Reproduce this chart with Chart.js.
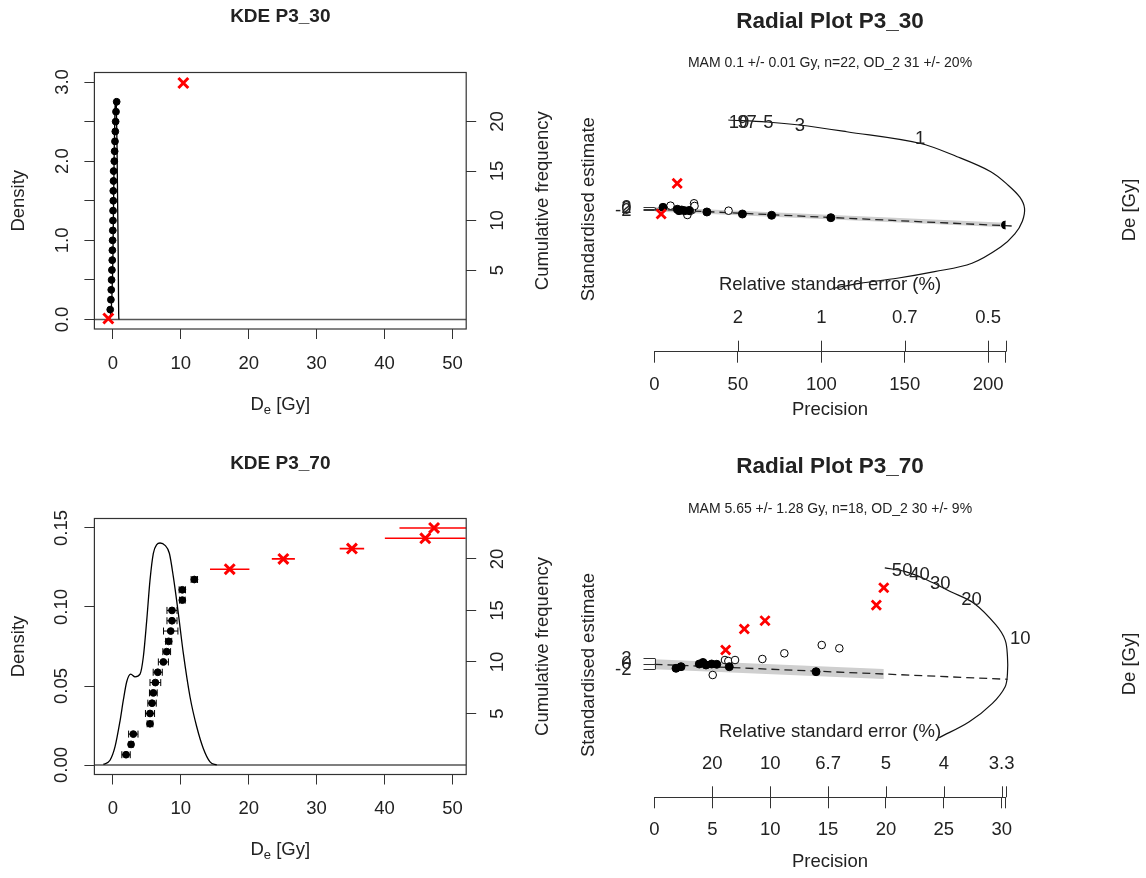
<!DOCTYPE html>
<html><head><meta charset="utf-8">
<script src="https://cdn.jsdelivr.net/npm/chart.js@4"></script>
<style>
html,body{margin:0;padding:0;background:#fff;}
#wrap{position:relative;width:1146px;height:878px;overflow:hidden;}
#wrap canvas{position:absolute;left:0;top:0;}
</style></head><body>
<div id="wrap">
<canvas id="kde30" width="1146" height="878"></canvas>
<canvas id="rad30" width="1146" height="878"></canvas>
<canvas id="kde70" width="1146" height="878"></canvas>
<canvas id="rad70" width="1146" height="878"></canvas>
</div>
<script>
// ================= DATA =================
// ---- KDE P3_30 ----
const deTicks = [0, 10, 20, 30, 40, 50];
const deRange = [-2.73, 52.03];
const kde30X = [-0.5, -0.3, -0.15, 0.0, 0.1, 0.2, 0.3, 0.4, 0.5, 0.6, 0.7, 0.78, 0.82, 0.85, 0.9];
const kde30Density = [0.0, 0.08, 0.3, 0.8, 1.5, 2.2, 2.65, 2.79, 2.7, 2.2, 1.4, 0.8, 0.3, 0.05, 0.0];
const cum30De = [-0.4, -0.3, -0.25, -0.2, -0.15, -0.1, -0.08, -0.05, -0.02, 0, 0.02, 0.05, 0.05, 0.08, 0.1, 0.2, 0.25, 0.3, 0.35, 0.4, 0.45, 0.55];
const cum30Err = [0.12, 0.1, 0.1, 0.1, 0.1, 0.1, 0.12, 0.1, 0.1, 0.1, 0.12, 0.1, 0.1, 0.1, 0.1, 0.12, 0.1, 0.1, 0.12, 0.1, 0.1, 0.12];
const cum30Rank = [1, 2, 3, 4, 5, 6, 7, 8, 9, 10, 11, 12, 13, 14, 15, 16, 17, 18, 19, 20, 21, 22];
const out30De = [-0.68, 10.37];
const out30Err = [0, 0];
const out30Rank = [0.1, 23.9];
const dens30Range = [-0.12, 3.12];
const dens30Ticks = [0, 0.5, 1, 1.5, 2, 2.5, 3];
const dens30TickLabels = ['0.0', '', '1.0', '', '2.0', '', '3.0'];
const cum30Range = [-0.96, 24.96];
const cumTicks = [5, 10, 15, 20];

// ---- KDE P3_70 ----
const kde70X = [-1.41, -0.43, 0.31, 1.05, 1.53, 2.03, 2.62, 3.25, 3.99, 4.48, 4.98, 5.46, 5.95, 6.45, 6.94, 7.67, 8.31, 8.90, 9.63, 10.37, 11.35, 12.34, 13.31, 14.30, 15.29];
const kde70Density = [0.0004, 0.003, 0.0116, 0.028, 0.041, 0.0527, 0.0575, 0.0558, 0.0575, 0.0685, 0.0917, 0.117, 0.134, 0.1395, 0.1405, 0.139, 0.134, 0.119, 0.096, 0.0706, 0.0432, 0.0242, 0.0105, 0.002, 0];
const cum70De = [1.93, 2.67, 3.0, 5.46, 5.46, 5.76, 5.95, 6.25, 6.60, 7.43, 7.92, 8.21, 8.51, 8.70, 8.70, 10.22, 10.22, 11.99];
const cum70Err = [0.62, 0.3, 0.69, 0.42, 0.67, 0.62, 0.57, 0.79, 0.67, 0.74, 0.57, 0.45, 1.06, 0.74, 0.74, 0.42, 0.47, 0.47];
const cum70Rank = [1, 2, 3, 4, 5, 6, 7, 8, 9, 10, 11, 12, 13, 14, 15, 16, 17, 18];
const out70De = [17.2, 25.1, 35.2, 46.0, 47.3];
const out70Err = [2.9, 1.7, 1.8, 5.95, 5.1];
const out70Rank = [19, 20, 21, 22, 23];
const dens70Range = [-0.006, 0.156];
const dens70Ticks = [0, 0.05, 0.1, 0.15];
const dens70TickLabels = ['0.00', '0.05', '0.10', '0.15'];
const cum70Range = [-0.92, 23.92];

// ---- Radial P3_30 ----
const zTicks = [-2, 0, 2];
const rad30PrecRange = [0, 210.4];
const rad30ZRange = [-190, 145.6];
const rad30PrecTicks = [0, 50, 100, 150, 200];
const rad30RseTickPos = [50, 100, 150, 200];
const rad30RseLabels = ['2', '1', '0.7', '0.5'];
const rad30BlackX = [5.1, 13.7, 14.7, 16.3, 18.1, 20.7, 31.4, 52.7, 70.2, 105.7, 210.4];
const rad30BlackY = [2.5, -0.1, -2.0, -1.1, -2.0, -1.7, -3.7, -6.4, -8.1, -11.3, -21.1];
const rad30OpenX = [9.6, 19.7, 22.4, 23.7, 24.0, 21.3, 44.4];
const rad30OpenY = [4.7, -7.7, -1.1, 7.9, 4.3, -2.4, -2.0];
const rad30RedX = [13.6, 4.0];
const rad30RedY = [34.5, -6.4];
const rad30CentralX = [0, 214.1];
const rad30CentralY = [0, -22.4];
const rad30BandX = [0, 210.4];
const rad30BandUpper = [3.0, -18.1];
const rad30BandLower = [-3.0, -24.1];
const rad30ArcX = [44.2, 67.3, 86.8, 115.2, 158.9, 181.4, 201.6, 212.0, 219.0, 221.8, 220.5, 216.0, 207.5, 190.3, 167.9, 145.4, 123.0, 107.3];
const rad30ArcY = [118.9, 116.3, 112.3, 103.3, 87.9, 70.0, 50.0, 32.0, 16.0, 1.2, -16.0, -33.0, -50.5, -72.1, -83.3, -92.1, -98.8, -105.5];
const rad30ArcLabels = ['10', '9', '7', '5', '3', '1'];
const rad30ArcLabelX = [50.7, 52.8, 58.3, 68.2, 87.2, 159.3];
const rad30ArcLabelY = [115.3, 115.3, 115.3, 114.5, 110.9, 93.6];

// ---- Radial P3_70 ----
const rad70PrecRange = [0, 30.33];
const rad70ZRange = [-48.5, 43.3];
const rad70PrecTicks = [0, 5, 10, 15, 20, 25, 30];
const rad70RseTickPos = [5, 10, 15, 20, 25, 30];
const rad70RseLabels = ['20', '10', '6.7', '5', '4', '3.3'];
const rad70BlackX = [1.86, 2.29, 3.87, 4.19, 4.45, 4.94, 5.38, 6.46, 13.96];
const rad70BlackY = [-1.56, -0.98, 0, 0.55, -0.36, 0, -0.11, -0.98, -2.8];
const rad70OpenX = [6.09, 6.38, 6.96, 5.03, 9.32, 11.22, 14.45, 15.97];
const rad70OpenY = [1.45, 1.09, 1.45, -4.0, 1.82, 3.89, 6.91, 5.71];
const rad70RedX = [6.15, 7.76, 9.55, 19.17, 19.81];
const rad70RedY = [5.09, 12.73, 15.75, 21.45, 27.75];
const rad70CentralX = [0, 30.5];
const rad70CentralY = [-0.1, -5.56];
const rad70BandX = [0, 19.8];
const rad70BandUpper = [1.7, -1.84];
const rad70BandLower = [-1.9, -5.44];
const rad70ArcX = [19.9, 21.7, 23.6, 25.6, 27.6, 29.5, 30.3, 30.5, 30.5, 30.3, 29.2, 27.2, 24.6];
const rad70ArcY = [35.0, 33.6, 30.5, 26.3, 22.1, 14.2, 8.7, 2.65, -3.4, -8.25, -14.3, -21.0, -26.8];
const rad70ArcLabels = ['50', '40', '30', '20', '10'];
const rad70ArcLabelX = [21.4, 22.9, 24.7, 27.4, 31.6];
const rad70ArcLabelY = [33.9, 32.4, 29.3, 23.5, 9.0];

// ================= HELPERS =================
const FAM = "'Liberation Sans', Arial, Helvetica, sans-serif";
const INK = '#222';
Chart.defaults.font.family = FAM;
Chart.defaults.font.size = 18.5;
Chart.defaults.color = INK;
Chart.defaults.animation = false;

const pts = (xs, ys) => xs.map((x, i) => ({x: x, y: ys[i]}));
const errSegs = (xs, es, ys) => xs.flatMap((x, i) => [{x: x - es[i], y: ys[i]}, {x: x + es[i], y: ys[i]}, {x: null, y: null}]);
const bandPoly = (xs, up, lo) => pts(xs, up).concat(pts(xs, lo).reverse());
const setTicks = (vals) => (ax) => { ax.ticks = vals.map(v => ({value: v})); };

function txt(ctx, s, x, y, font, rot) {
  ctx.save();
  ctx.font = font; ctx.fillStyle = INK;
  ctx.textAlign = 'center'; ctx.textBaseline = 'middle';
  ctx.translate(x, y); if (rot) ctx.rotate(rot);
  ctx.fillText(s, 0, 0);
  ctx.restore();
}
function deLabel(ctx, x, y, size) {
  ctx.save();
  ctx.fillStyle = INK; ctx.textBaseline = 'middle'; ctx.textAlign = 'left';
  const f1 = size + 'px ' + FAM, f2 = Math.round(size * 0.72) + 'px ' + FAM;
  ctx.font = f1; const wD = ctx.measureText('D').width; const wR = ctx.measureText(' [Gy]').width;
  ctx.font = f2; const we = ctx.measureText('e').width;
  let cx = x - (wD + we + wR) / 2;
  ctx.font = f1; ctx.fillText('D', cx, y); cx += wD;
  ctx.font = f2; ctx.fillText('e', cx, y + size * 0.32); cx += we;
  ctx.font = f1; ctx.fillText(' [Gy]', cx, y);
  ctx.restore();
}
const tickGrid = (len) => ({display: true, drawOnChartArea: false, drawTicks: true, tickLength: len, tickColor: '#333', tickWidth: 1});

// ================= KDE CHART =================
function kdeChart(id, L, d) {
  const AXW = 60;
  return new Chart(document.getElementById(id), {
    type: 'scatter',
    data: {datasets: [
      {label: 'outliers', data: pts(d.outDe, d.outRank), yAxisID: 'y2', pointStyle: 'crossRot', pointRadius: 7, pointBorderWidth: 3,
       borderColor: '#ff0000', backgroundColor: '#ff0000', order: 1},
      {label: 'outlier error', data: errSegs(d.outDe, d.outErr, d.outRank), yAxisID: 'y2', showLine: true, borderColor: '#ff0000',
       backgroundColor: '#ff0000', borderWidth: 1.6, pointRadius: 0, spanGaps: false, order: 2},
      {label: 'cumulative', data: pts(d.cumDe, d.cumRank), yAxisID: 'y2', pointStyle: 'circle', pointRadius: 3.4, pointBorderWidth: 1,
       borderColor: '#000', backgroundColor: '#000', order: 3},
      {label: 'error', data: errSegs(d.cumDe, d.cumErr, d.cumRank), yAxisID: 'y2', showLine: true, borderColor: '#000', backgroundColor: '#000',
       borderWidth: 1, pointStyle: 'line', pointRotation: 90, pointRadius: 3.5, pointBorderWidth: 1, spanGaps: false, order: 4},
      {label: 'KDE', data: pts(d.kdeX, d.kdeY), yAxisID: 'y', showLine: true, borderColor: '#000', backgroundColor: '#000',
       borderWidth: 1.3, pointRadius: 0, cubicInterpolationMode: 'monotone', order: 5},
      {label: 'zero', data: [{x: deRange[0], y: 0}, {x: deRange[1], y: 0}], yAxisID: 'y', showLine: true, borderColor: '#555',
       backgroundColor: '#555', borderWidth: 1.6, pointRadius: 0, order: 6}
    ]},
    options: {
      responsive: false, animation: false,
      layout: {padding: {left: L.left - AXW, right: 1146 - L.right - AXW, top: L.top, bottom: 878 - L.bottom - AXW}},
      plugins: {legend: {display: false}, tooltip: {enabled: false}, title: {display: false}, colors: {enabled: false}},
      scales: {
        x: {type: 'linear', position: 'bottom', min: deRange[0], max: deRange[1], afterBuildTicks: setTicks(deTicks),
            ticks: {autoSkip: false, maxRotation: 0, padding: 13.5, color: INK, callback: v => String(v)},
            grid: tickGrid(10), border: {display: false}, afterFit: s => { s.height = AXW; }},
        y: {type: 'linear', position: 'left', min: d.densRange[0], max: d.densRange[1], afterBuildTicks: setTicks(d.densTicks),
            ticks: {autoSkip: false, minRotation: 90, maxRotation: 90, crossAlign: 'center', padding: L.yPad, color: INK,
                    callback: (v, i) => d.densLabels[i]},
            grid: tickGrid(10), border: {display: false}, afterFit: s => { s.width = AXW; }},
        y2: {type: 'linear', position: 'right', min: d.cumRange[0], max: d.cumRange[1], afterBuildTicks: setTicks(cumTicks),
            ticks: {autoSkip: false, minRotation: 90, maxRotation: 90, crossAlign: 'center', padding: 11.7, color: INK,
                    callback: v => String(v)},
            grid: tickGrid(10), border: {display: false}, afterFit: s => { s.width = AXW; }}
      }
    },
    plugins: [{
      id: 'kdeDecor',
      afterDraw(chart) {
        const ctx = chart.ctx, a = chart.chartArea;
        ctx.save(); ctx.strokeStyle = '#333'; ctx.lineWidth = 1.2;
        ctx.strokeRect(a.left, a.top, a.right - a.left, a.bottom - a.top);
        ctx.restore();
        const cx = (a.left + a.right) / 2, cy = (a.top + a.bottom) / 2;
        txt(ctx, L.title, cx, L.titleY, 'bold 19px ' + FAM);
        txt(ctx, 'Density', L.densX, cy, '18.5px ' + FAM, -Math.PI / 2);
        txt(ctx, 'Cumulative frequency', L.cumX, cy, '18.5px ' + FAM, -Math.PI / 2);
        deLabel(ctx, cx, L.deY, 18.5);
      }
    }]
  });
}

// ================= RADIAL CHART =================
function radialChart(id, L, d) {
  const AXW = 60, AXH = 70;
  const nP = d.precTicks.length;
  return new Chart(document.getElementById(id), {
    type: 'scatter',
    data: {datasets: [
      {label: 'outliers', data: pts(d.redX, d.redY), pointStyle: 'crossRot', pointRadius: 6.5, pointBorderWidth: 2.8,
       borderColor: '#ff0000', backgroundColor: '#ff0000', order: 1},
      {label: 'MAM points', data: pts(d.blackX, d.blackY), pointStyle: 'circle', pointRadius: 4, pointBorderWidth: 1,
       borderColor: '#000', backgroundColor: '#000', order: 2},
      {label: 'other points', data: pts(d.openX, d.openY), pointStyle: 'circle', pointRadius: 3.8, pointBorderWidth: 1,
       borderColor: '#000', backgroundColor: '#fff', order: 3},
      {label: 'central', data: pts(d.centralX, d.centralY), showLine: true, borderColor: '#222', backgroundColor: '#222',
       borderWidth: 1.3, borderDash: [8, 5], pointRadius: 0, clip: false, order: 4},
      {label: 'arc', data: pts(d.arcX, d.arcY), showLine: true, borderColor: '#111', backgroundColor: '#111',
       borderWidth: 1.2, pointRadius: 0, clip: false, cubicInterpolationMode: 'default', tension: 0.35, order: 5},
      {label: 'band', data: bandPoly(d.bandX, d.bandUpper, d.bandLower), showLine: true, fill: 'shape',
       borderWidth: 0, borderColor: 'rgba(0,0,0,0)', backgroundColor: '#cfcfcf', pointRadius: 0, order: 6}
    ]},
    options: {
      responsive: false, animation: false,
      layout: {padding: {left: L.left - AXW, right: 1146 - L.right, top: L.top, bottom: 878 - L.bottom - AXH}},
      plugins: {legend: {display: false}, tooltip: {enabled: false}, title: {display: false}, colors: {enabled: false}},
      scales: {
        x: {type: 'linear', position: 'bottom', min: d.precRange[0], max: d.precRange[1],
            afterBuildTicks: setTicks(d.precTicks.concat([d.precRange[1]])),
            ticks: {autoSkip: false, maxRotation: 0, padding: L.xPad, color: INK, callback: (v, i) => (i < nP ? String(v) : '')},
            grid: tickGrid(11), border: {display: true, color: '#333', width: 1}, afterFit: s => { s.height = AXH; }},
        y: {type: 'linear', position: 'left', min: d.zRange[0], max: d.zRange[1], afterBuildTicks: setTicks(zTicks),
            ticks: {autoSkip: false, padding: 12, color: INK, callback: v => String(v)},
            grid: tickGrid(11), border: {display: false}, afterFit: s => { s.width = AXW; }}
      }
    },
    plugins: [{
      id: 'radialDecor',
      afterDraw(chart) {
        const ctx = chart.ctx, a = chart.chartArea, xs = chart.scales.x, ys = chart.scales.y;
        ctx.save(); ctx.strokeStyle = '#333'; ctx.lineWidth = 1;
        d.rseTickPos.concat([d.precRange[1]]).forEach(v => {
          const px = Math.round(xs.getPixelForValue(v)) + 0.5;
          ctx.beginPath(); ctx.moveTo(px, a.bottom); ctx.lineTo(px, a.bottom - 11); ctx.stroke();
        });
        const x0 = Math.round(xs.getPixelForValue(0)) + 0.5;
        ctx.beginPath(); ctx.moveTo(x0, ys.getPixelForValue(zTicks[0])); ctx.lineTo(x0, ys.getPixelForValue(zTicks[zTicks.length - 1])); ctx.stroke();
        ctx.restore();
        const F = '18.5px ' + FAM;
        d.rseTickPos.forEach((v, i) => txt(ctx, d.rseLabels[i], xs.getPixelForValue(v), L.rseLabelY, F));
        d.arcLabelX.forEach((v, i) => txt(ctx, d.arcLabels[i], xs.getPixelForValue(v), ys.getPixelForValue(d.arcLabelY[i]), F));
        const cx = (a.left + a.right) / 2;
        txt(ctx, L.title, cx, L.titleY, 'bold 22.5px ' + FAM);
        txt(ctx, L.sub, cx, L.subY, '14px ' + FAM);
        txt(ctx, 'Relative standard error (%)', cx, L.rseTitleY, F);
        txt(ctx, 'Precision', cx, L.precTitleY, F);
        txt(ctx, 'Standardised estimate', L.stdX, L.stdY, F, -Math.PI / 2);
        txt(ctx, 'De [Gy]', L.deX, L.deY, F, -Math.PI / 2);
      }
    }]
  });
}

// ================= BUILD =================
kdeChart('kde30', {left: 94.4, right: 466.2, top: 72.5, bottom: 329, yPad: 9.1, title: 'KDE P3_30', titleY: 16.7, densX: 18.5, cumX: 543, deY: 405},
  {kdeX: kde30X, kdeY: kde30Density, cumDe: cum30De, cumErr: cum30Err, cumRank: cum30Rank, outDe: out30De, outErr: out30Err, outRank: out30Rank,
   densRange: dens30Range, densTicks: dens30Ticks, densLabels: dens30TickLabels, cumRange: cum30Range});

kdeChart('kde70', {left: 94.4, right: 466.2, top: 518.5, bottom: 774.5, yPad: 4, title: 'KDE P3_70', titleY: 463.3, densX: 18.5, cumX: 543, deY: 850},
  {kdeX: kde70X, kdeY: kde70Density, cumDe: cum70De, cumErr: cum70Err, cumRank: cum70Rank, outDe: out70De, outErr: out70Err, outRank: out70Rank,
   densRange: dens70Range, densTicks: dens70Ticks, densLabels: dens70TickLabels, cumRange: cum70Range});

radialChart('rad30', {left: 654.5, right: 1005.5, top: 100, bottom: 351.7, xPad: 11.2, title: 'Radial Plot P3_30', titleY: 21.7,
   sub: 'MAM 0.1 +/- 0.01 Gy, n=22, OD_2 31 +/- 20%', subY: 63.3, rseTitleY: 285, rseLabelY: 318.3, precTitleY: 410,
   stdX: 588.5, stdY: 209.2, deX: 1130, deY: 210},
  {precRange: rad30PrecRange, zRange: rad30ZRange, precTicks: rad30PrecTicks, rseTickPos: rad30RseTickPos, rseLabels: rad30RseLabels,
   blackX: rad30BlackX, blackY: rad30BlackY, openX: rad30OpenX, openY: rad30OpenY, redX: rad30RedX, redY: rad30RedY,
   centralX: rad30CentralX, centralY: rad30CentralY, bandX: rad30BandX, bandUpper: rad30BandUpper, bandLower: rad30BandLower,
   arcX: rad30ArcX, arcY: rad30ArcY, arcLabels: rad30ArcLabels, arcLabelX: rad30ArcLabelX, arcLabelY: rad30ArcLabelY});

radialChart('rad70', {left: 654.5, right: 1005.5, top: 545, bottom: 797.3, xPad: 10.6, title: 'Radial Plot P3_70', titleY: 466.7,
   sub: 'MAM 5.65 +/- 1.28 Gy, n=18, OD_2 30 +/- 9%', subY: 509, rseTitleY: 731.7, rseLabelY: 764, precTitleY: 861.7,
   stdX: 588.5, stdY: 665, deX: 1130, deY: 664},
  {precRange: rad70PrecRange, zRange: rad70ZRange, precTicks: rad70PrecTicks, rseTickPos: rad70RseTickPos, rseLabels: rad70RseLabels,
   blackX: rad70BlackX, blackY: rad70BlackY, openX: rad70OpenX, openY: rad70OpenY, redX: rad70RedX, redY: rad70RedY,
   centralX: rad70CentralX, centralY: rad70CentralY, bandX: rad70BandX, bandUpper: rad70BandUpper, bandLower: rad70BandLower,
   arcX: rad70ArcX, arcY: rad70ArcY, arcLabels: rad70ArcLabels, arcLabelX: rad70ArcLabelX, arcLabelY: rad70ArcLabelY});
</script>
</body></html>
